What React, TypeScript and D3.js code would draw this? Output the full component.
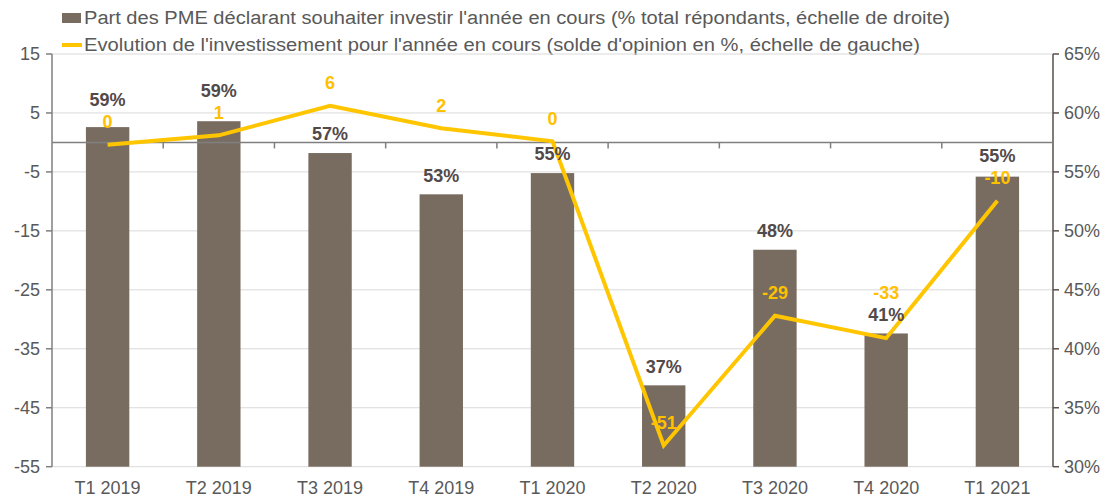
import React, { useEffect } from "react";
import * as d3 from "d3";

const categories = ["T1 2019", "T2 2019", "T3 2019", "T4 2019", "T1 2020", "T2 2020", "T3 2020", "T4 2020", "T1 2021"];
const shareValues = [58.8, 59.3, 56.6, 53.1, 54.9, 36.9, 48.4, 41.3, 54.6];
const balanceValues = [-0.4, 1.2, 6.2, 2.4, 0.2, -51.4, -29.4, -33.2, -9.9];
const leftTicks = [15, 5, -5, -15, -25, -35, -45, -55];
const rightTicks = [30, 35, 40, 45, 50, 55, 60, 65];
const legendBar = "Part des PME déclarant souhaiter investir l'année en cours (% total répondants, échelle de droite)";
const legendLine = "Evolution de l'investissement pour l'année en cours (solde d'opinion en %, échelle de gauche)";

const W = 1109;
const H = 498;
const FONT = "'Liberation Sans', Arial, sans-serif";
const BAR = "#786c61";
const GOLD = "#ffc600";
const TEXT = "#595959";

export default function App() {
  useEffect(() => {
    document.body.style.margin = "0";
  }, []);

  const left = 52, right = 1053, top = 54, bottom = 466.7;
  const x = d3.scaleBand<string>().domain(categories).range([left, right]);
  const yL = d3.scaleLinear().domain([-55, 15]).range([bottom, top]);
  const yR = d3.scaleLinear().domain([30, 65]).range([bottom, top]);
  const bw = x.bandwidth() * 0.39;
  const cx = (c: string) => (x(c) as number) + x.bandwidth() / 2;

  const line = d3
    .line<number>()
    .x((_, i) => cx(categories[i]))
    .y((d) => yL(d));

  const zeroY = yL(0);
  const gap = 22;

  // label placement with simple collision avoidance
  const labels = categories.map((c, i) => {
    const barTop = yR(shareValues[i]);
    const pt = yL(balanceValues[i]);
    let barLabelY = barTop - 19;
    let lineLabelY = pt - 23;
    if (Math.abs(barLabelY - lineLabelY) < gap) {
      if (pt - barTop > 8) {
        barLabelY = lineLabelY - gap;
      } else {
        lineLabelY = barLabelY - gap;
      }
    }
    return { barLabelY, lineLabelY };
  });

  const fmtLine = (v: number) => {
    const r = Math.round(v);
    return String(r === 0 ? 0 : r);
  };

  return (
    <svg width={W} height={H} style={{ display: "block", fontFamily: FONT }}>
      <rect width={W} height={H} fill="#fff" />
      {/* legend */}
      <rect x={62} y={13} width={19} height={10} fill={BAR} />
      <text x={84} y={18} dy="0.35em" fontSize={18} fill={TEXT} textLength={866} lengthAdjust="spacingAndGlyphs">{legendBar}</text>
      <line x1={62} x2={82} y1={45} y2={45} stroke={GOLD} strokeWidth={4} />
      <text x={84} y={45} dy="0.35em" fontSize={18} fill={TEXT} textLength={836} lengthAdjust="spacingAndGlyphs">{legendLine}</text>

      {/* gridlines */}
      {leftTicks.map((t) => (
        <line key={"g" + t} x1={left} x2={right} y1={yL(t)} y2={yL(t)} stroke="#d9d9d9" strokeWidth={1} />
      ))}

      {/* bars */}
      {categories.map((c, i) => (
        <rect key={"b" + c} x={cx(c) - bw / 2} y={yR(shareValues[i])} width={bw} height={bottom - yR(shareValues[i])} fill={BAR} />
      ))}

      {/* left axis */}
      <line x1={left} x2={left} y1={top} y2={bottom} stroke="#7f7f7f" strokeWidth={1.5} />
      {leftTicks.map((t) => (
        <g key={"l" + t}>
          <line x1={left - 6} x2={left} y1={yL(t)} y2={yL(t)} stroke="#7f7f7f" strokeWidth={1.5} />
          <text x={40} y={yL(t)} dy="0.35em" textAnchor="end" fontSize={18} fill={TEXT}>{t}</text>
        </g>
      ))}

      {/* right axis */}
      <line x1={right} x2={right} y1={top} y2={bottom} stroke="#5a4f4a" strokeWidth={1.5} />
      {rightTicks.map((t) => (
        <g key={"r" + t}>
          <line x1={right} x2={right + 6} y1={yR(t)} y2={yR(t)} stroke="#5a4f4a" strokeWidth={1.5} />
          <text x={1064} y={yR(t)} dy="0.35em" textAnchor="start" fontSize={18} fill={TEXT}>{t + "%"}</text>
        </g>
      ))}

      {/* zero axis */}
      <line x1={left} x2={right} y1={zeroY} y2={zeroY} stroke="#7f7f7f" strokeWidth={1.5} />
      {categories.slice(1).map((c) => (
        <line key={"t" + c} x1={x(c) as number} x2={x(c) as number} y1={zeroY} y2={zeroY + 6} stroke="#7f7f7f" strokeWidth={1.5} />
      ))}

      {/* category labels */}
      {categories.map((c) => (
        <text key={"c" + c} x={cx(c)} y={488} dy="0.35em" textAnchor="middle" fontSize={18} fill={TEXT}>{c}</text>
      ))}

      {/* line */}
      <path d={line(balanceValues) as string} fill="none" stroke={GOLD} strokeWidth={4} strokeLinejoin="miter" />

      {/* bar labels */}
      {categories.map((c, i) => (
        <text key={"bl" + c} x={cx(c)} y={labels[i].barLabelY} dy="0.35em" textAnchor="middle" fontSize={18} fontWeight="bold" fill="#524949">
          {Math.round(shareValues[i]) + "%"}
        </text>
      ))}

      {/* line labels */}
      {categories.map((c, i) => (
        <text key={"ll" + c} x={cx(c)} y={labels[i].lineLabelY} dy="0.35em" textAnchor="middle" fontSize={18} fontWeight="bold" fill="#ffc000">
          {fmtLine(balanceValues[i])}
        </text>
      ))}
    </svg>
  );
}
